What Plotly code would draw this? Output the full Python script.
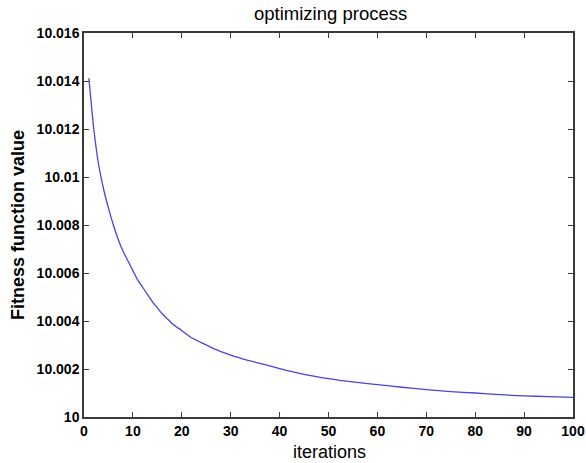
import plotly.graph_objects as go

iterations = [1, 2, 3, 4, 5, 6, 7, 8, 9, 10, 11, 12, 13, 14, 15, 16, 17, 18, 20, 22, 24, 26, 28,
              30, 33, 37, 40, 45, 50, 55, 60, 65, 70, 75, 80, 85, 90, 95, 100]
fitness = [10.01412, 10.0120, 10.0105, 10.0095, 10.0087, 10.0080, 10.0074, 10.0069,
           10.0065, 10.0061, 10.0057, 10.0054, 10.0051, 10.0048, 10.00455, 10.0043,
           10.0041, 10.0039, 10.0036, 10.0033, 10.0031, 10.0029, 10.00272, 10.00258,
           10.00239, 10.00218, 10.00202, 10.00178, 10.00160, 10.00146, 10.00135,
           10.00124, 10.00114, 10.00106, 10.00100, 10.00093, 10.00088, 10.00085, 10.00082]

x_ticks = [0, 10, 20, 30, 40, 50, 60, 70, 80, 90, 100]
y_ticks = [10.0, 10.002, 10.004, 10.006, 10.008, 10.01, 10.012, 10.014, 10.016]
y_tick_labels = ["10", "10.002", "10.004", "10.006", "10.008", "10.01", "10.012", "10.014", "10.016"]

fig = go.Figure()
fig.add_trace(go.Scatter(x=iterations, y=fitness, mode="lines", line_shape="spline",
                         line=dict(color="#4646dc", width=1.3, smoothing=0.6), showlegend=False))

axis_common = dict(showline=True, linecolor="#3a3a3a", linewidth=1.5, mirror="ticks",
                   ticks="inside", ticklen=5, tickcolor="#3a3a3a", tickwidth=1,
                   showgrid=False, zeroline=False, automargin=False)

FONT = "Liberation Sans, Arial, Helvetica"

fig.update_layout(
    width=586, height=463,
    margin=dict(l=84, r=13, t=33, b=46),
    paper_bgcolor="white", plot_bgcolor="white",
    font=dict(family=FONT, color="black"),
    xaxis=dict(range=[0, 100], tickvals=x_ticks,
               tickfont=dict(size=14, family=FONT, weight="bold"),
               **axis_common),
    yaxis=dict(range=[10.0, 10.016], tickvals=y_ticks, ticktext=y_tick_labels,
               tickfont=dict(size=14, family=FONT, weight="bold"),
               **axis_common),
    annotations=[
        dict(text="optimizing process", xref="paper", yref="paper", x=0.505, y=1.05,
             xanchor="center", yanchor="middle", showarrow=False,
             font=dict(family=FONT, size=18.5, color="black")),
        dict(text="iterations", xref="paper", yref="paper", x=0.503, y=-0.091,
             xanchor="center", yanchor="middle", showarrow=False,
             font=dict(family=FONT, size=18, color="black")),
        dict(text="<b>Fitness function value</b>", xref="paper", yref="paper", x=-0.135, y=0.5,
             xanchor="center", yanchor="middle", textangle=-90, showarrow=False,
             font=dict(family=FONT, size=18, color="black")),
    ],
)

fig.write_html(
    "out.html",
    config={"displayModeBar": False},
    post_script="document.body.style.margin='0';document.body.style.overflow='hidden';",
)
